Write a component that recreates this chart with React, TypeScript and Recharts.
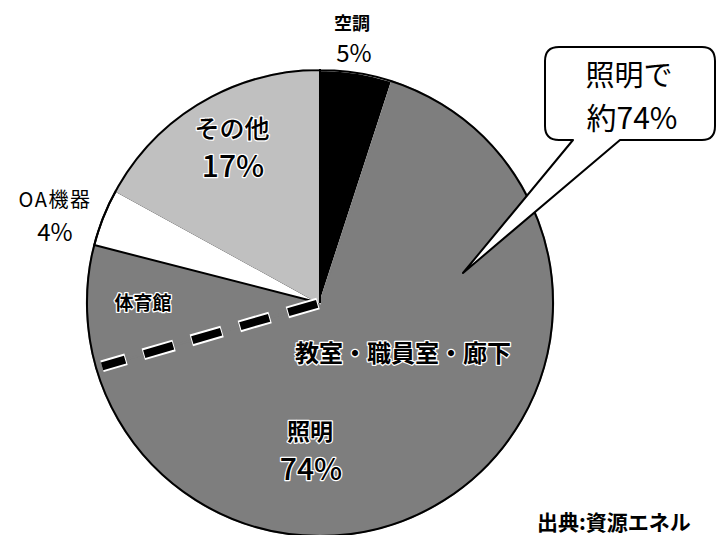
import React from "react";
import { PieChart, Pie, Cell } from "recharts";

const categories = ["空調", "教室・職員室・廊下", "体育館", "OA機器", "その他"];
const values = [5, 65.5, 8.5, 4, 17];
const fills = ["#000000", "#7e7e7e", "#7e7e7e", "#ffffff", "#c0c0c0"];
const strokes = ["#ffffff", "#7e7e7e", "#7e7e7e", "#000000", "#c0c0c0"];
const lightingTotal = "74%";

const data = categories.map((name, i) => ({ name, value: values[i] }));
const total = values.reduce((a, b) => a + b, 0);

const W = 717;
const H = 535;
const CX = 320;
const CY = 303;
const R = 233;
const JP = '"Noto Sans CJK JP", "Noto Sans", sans-serif';

function HaloText(props: { x: number; y: number; size: number; weight?: number; children: React.ReactNode }) {
  const { x, y, size, weight = 700, children } = props;
  return (
    <g>
      <text x={x} y={y} textAnchor="middle" fontFamily={JP} fontSize={size} fontWeight={weight}
        fill="#fff" stroke="#fff" strokeWidth={2.5} strokeLinejoin="round">{children}</text>
      <text x={x} y={y} textAnchor="middle" fontFamily={JP} fontSize={size} fontWeight={weight} fill="#000">{children}</text>
    </g>
  );
}

function renderOverlay() {
  // dashed divider between 教室・職員室・廊下 and 体育館
  const cum = (values[0] + values[1]) / total;
  const theta = cum * 2 * Math.PI;
  const ex = CX + (R - 6) * Math.sin(theta);
  const ey = CY - (R - 6) * Math.cos(theta);
  const sx = CX + 2 * Math.sin(theta);
  const sy = CY - 2 * Math.cos(theta);
  return (
    <g key="overlay">
      <line x1={sx} y1={sy} x2={ex} y2={ey} stroke="#fff" strokeWidth={12} strokeDasharray="32 18" />
      <line x1={sx} y1={sy} x2={ex} y2={ey} stroke="#000" strokeWidth={8} strokeDasharray="30 20" strokeDashoffset={-1} />

      {/* outside labels */}
      <text x={352} y={30} textAnchor="middle" fontFamily={JP} fontSize={18} fontWeight={700} fill="#000">{categories[0]}</text>
      <text x={354} y={62} textAnchor="middle" fontFamily={JP} fontSize={24} fill="#000">{values[0]}%</text>
      <text x={55} y={207} textAnchor="middle" fontFamily={JP} fontSize={20} letterSpacing={1.5} fill="#000">{categories[3]}</text>
      <text x={55} y={241} textAnchor="middle" fontFamily={JP} fontSize={24} fill="#000">{values[3]}%</text>

      {/* inside labels */}
      <HaloText x={232} y={138} size={25} weight={500}>{categories[4]}</HaloText>
      <HaloText x={233} y={177} size={30} weight={500}>{values[4]}%</HaloText>
      <HaloText x={143} y={310} size={19}>{categories[2]}</HaloText>
      <HaloText x={403} y={362} size={24}>{categories[1]}</HaloText>
      <HaloText x={310} y={440} size={23}>照明</HaloText>
      <HaloText x={311} y={480} size={30} weight={500}>{lightingTotal}</HaloText>

      {/* callout */}
      <path
        d="M559,47 H702 Q715,47 715,61 V126 Q715,140 702,140 H620 L463,273 L573,140 H559 Q545,140 545,126 V61 Q545,47 559,47 Z"
        fill="#fff"
        stroke="#000"
        strokeWidth={2}
        strokeLinejoin="round"
      />
      <text x={629} y={86} textAnchor="middle" fontFamily={JP} fontSize={29} fill="#000">照明で</text>
      <text x={632} y={129} textAnchor="middle" fontFamily={JP} fontSize={30} fill="#000">約{lightingTotal}</text>

      {/* source */}
      <text x={537} y={530} fontFamily={JP} fontSize={21} fontWeight={700} fill="#000">出典:資源エネル</text>
    </g>
  );
}

export default function App() {
  return (
    <div style={{ position: "absolute", left: 0, top: 0, width: W, height: H, background: "#fff" }}>
      <PieChart width={W} height={H} margin={{ top: 0, right: 0, bottom: 0, left: 0 }}>
        <Pie
          data={data}
          dataKey="value"
          nameKey="name"
          cx={CX}
          cy={CY}
          outerRadius={R}
          startAngle={90}
          endAngle={-270}
          isAnimationActive={false}
          label={false}
          labelLine={false}
        >
          {data.map((d, i) => (
            <Cell key={d.name} fill={fills[i]} stroke={strokes[i]} strokeWidth={2} />
          ))}
        </Pie>
        <Pie
          data={[{ name: "outline", value: 1 }]}
          dataKey="value"
          cx={CX}
          cy={CY}
          outerRadius={R}
          startAngle={90}
          endAngle={-270}
          isAnimationActive={false}
          fill="none"
          stroke="#000"
          strokeWidth={2}
          label={renderOverlay}
          labelLine={false}
        />
      </PieChart>
    </div>
  );
}
